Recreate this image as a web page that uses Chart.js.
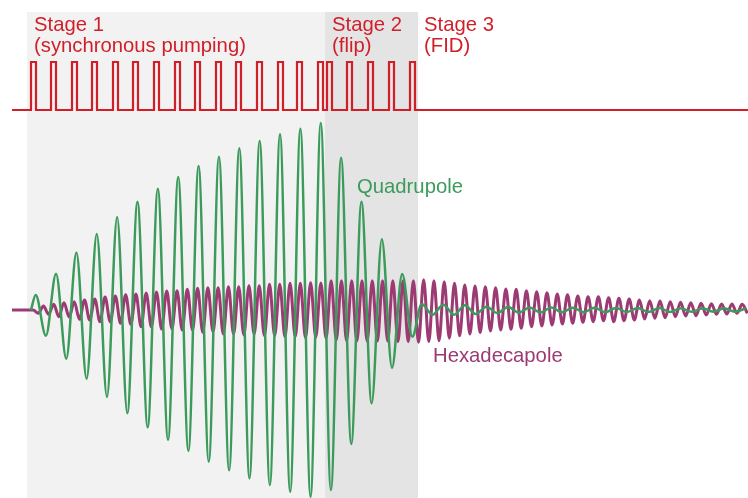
<!DOCTYPE html>
<html>
<head>
<meta charset="utf-8">
<script src="https://cdn.jsdelivr.net/npm/chart.js@4.4.1/dist/chart.umd.min.js"></script>
<style>
  html, body { margin: 0; padding: 0; background: #ffffff; }
  #wrap { width: 748px; height: 498px; }
</style>
</head>
<body>
<div id="wrap"><canvas id="chart" width="748" height="498"></canvas></div>
<script>
// time axis runs 0..748, signal axis centred on 0
const stageEdges = [27, 325, 418];
const stageTitles = ['Stage 1', 'Stage 2', 'Stage 3'];
const stageNotes = ['(synchronous pumping)', '(flip)', '(FID)'];

// pump pulse train (rising edge times)
const pulseStartsPump = [31, 51, 72, 92, 113, 133, 154, 175, 195, 216, 236, 257, 278, 297, 318];
const pulseStartsFlip = [327, 347, 368, 389, 410];
const pulseWidth = 5;
const pulseLow = 200;
const pulseHigh = 248;
const traceStart = 12;
const traceEnd = 748;

// quadrupole: successive peaks / troughs during pumping and flip
const quadStart = 35.7;
const quadHalfPeriod = 10.18;
const quadDriven = [
    15, -25.7, 36.3, -48.7, 57.3, -68.7, 76, -87, 93, -103.3,
    108.3, -117.3, 121.3, -130, 133, -141, 144, -151.7, 153.3, -160.3,
    161.7, -168.3, 169, -175, 175.7, -181.7, 181.3, -186.7, 187, -180,
    152.3, -134, 108.3, -93.3, 70.7, -57.7, 36, -26.7
];
// quadrupole: free decay (stage 3)
const quadFreeStart = 421.7;
const quadFreeHalfPeriod = 10.8;
const quadFree = [
    6, -4.7, 5.3, -4.7, 4.7, -4, 3.3, -3, 3, -2.7,
    2.5, -2.5, 2.4, -2.3, 2.2, -2.2, 2.2, -2.2, 2, -2,
    2, -2, 1.9, -1.9, 1.8, -1.8, 1.8, -1.7, 1.7, -1.7, 1.6
];

// hexadecapole: successive troughs / peaks over the whole record
const hexStart = 38.3;
const hexHalfPeriod = 5.138;
const hexValues = [
    -3.3, 4, -4.3, 5.7, -6.7, 7.3, -7, 8.3, -9.3, 10,
    -10, 11, -11.7, 13, -12, 14, -13.3, 15.3, -14.3, 16,
    -16.7, 17, -16.7, 18, -19, 19, -18.7, 19.3, -20, 20.7,
    -20, 21.7, -22.3, 22.3, -21.7, 22.3, -24, 23.3, -24, 23.3,
    -25, 24.3, -24.3, 24.3, -25.7, 25.7, -25.7, 25.7, -26.7, 26.7,
    -26.7, 26.7, -27.7, 27.3, -27.3, 27, -28.3, 29.3, -30, 29.3,
    -30.7, 29.3, -31, 29.3, -31, 29.3, -31, 29.3, -31, 29.3,
    -31.7, 29.3, -31.7, 29.3, -32.3, 30.3, -31.7, 29.3, -30.7, 28.3,
    -28.3, 26.7, -25.7, 25, -24, 24, -22.5, 23.3, -21, 22.3,
    -20, 21, -19.3, 20.7, -18.3, 19.3, -16.7, 18.3, -16, 17.3,
    -15, 16, -14, 15.3, -13.3, 14, -12.3, 13.3, -11.7, 13.3,
    -10.7, 12.3, -11.7, 11.7, -10.7, 11, -10, 10, -9, 9.3,
    -8.3, 9, -7.7, 8.3, -6.7, 7.7, -6, 7.3, -5.7, 6.7,
    -5, 6.3, -4.3, 6, -4, 6, -3.3, 5.7, -3.3
];

const red = '#d01f29';
const green = '#3c9b5c';
const purple = '#9c3a74';
const labelFont = '20.3px "Liberation Sans", Arial, sans-serif';

function pulsePoints() {
    const pts = [{ x: traceStart, y: pulseLow }];
    pulseStartsPump.concat(pulseStartsFlip).forEach(t => {
        pts.push({ x: t, y: pulseLow }, { x: t, y: pulseHigh });
        pts.push({ x: t + pulseWidth, y: pulseHigh }, { x: t + pulseWidth, y: pulseLow });
    });
    pts.push({ x: traceEnd, y: pulseLow });
    return pts;
}

function extremaPoints(start, step, values) {
    return values.map((v, i) => ({ x: start + i * step, y: v }));
}

const quadPoints = [{ x: 31, y: 0 }]
    .concat(extremaPoints(quadStart, quadHalfPeriod, quadDriven))
    .concat(extremaPoints(quadFreeStart, quadFreeHalfPeriod, quadFree));

const hexPoints = [{ x: traceStart, y: 0 }, { x: 33, y: 0 }]
    .concat(extremaPoints(hexStart, hexHalfPeriod, hexValues));

const stagePlugin = {
    id: 'stages',
    beforeDatasetsDraw(chart) {
        const ctx = chart.ctx;
        const xs = chart.scales.x;
        const bottom = chart.chartArea.bottom;
        const x0 = xs.getPixelForValue(stageEdges[0]);
        const x1 = xs.getPixelForValue(stageEdges[1]);
        const x2 = xs.getPixelForValue(stageEdges[2]);
        ctx.save();
        ctx.fillStyle = '#f2f2f2';
        ctx.fillRect(x0, 12, x1 - x0, bottom - 12);
        ctx.fillStyle = '#e4e4e4';
        ctx.fillRect(x1, 12, x2 - x1, bottom - 12);
        ctx.restore();
    },
    afterDatasetsDraw(chart) {
        const ctx = chart.ctx;
        const xs = chart.scales.x;
        const textX = [34, 332, 424];
        ctx.save();
        ctx.font = labelFont;
        ctx.textBaseline = 'alphabetic';
        ctx.fillStyle = red;
        stageTitles.forEach((t, i) => {
            ctx.fillText(t, xs.getPixelForValue(textX[i]), 30.7);
            ctx.fillText(stageNotes[i], xs.getPixelForValue(textX[i]), 51.5);
        });
        ctx.fillStyle = green;
        ctx.fillText('Quadrupole', xs.getPixelForValue(357), 193.3);
        ctx.fillStyle = purple;
        ctx.fillText('Hexadecapole', xs.getPixelForValue(433), 361.7);
        ctx.restore();
    }
};

new Chart(document.getElementById('chart'), {
    type: 'line',
    data: {
        datasets: [
            {
                label: 'Pulses',
                data: pulsePoints(),
                borderColor: red,
                borderWidth: 2.2,
                tension: 0,
                pointRadius: 0,
                order: 1
            },
            {
                label: 'Quadrupole',
                data: quadPoints,
                borderColor: green,
                borderWidth: 2.5,
                cubicInterpolationMode: 'monotone',
                tension: 0.4,
                pointRadius: 0,
                order: 2
            },
            {
                label: 'Hexadecapole',
                data: hexPoints,
                borderColor: purple,
                borderWidth: 3,
                cubicInterpolationMode: 'monotone',
                tension: 0.4,
                pointRadius: 0,
                order: 3
            }
        ]
    },
    options: {
        responsive: false,
        animation: false,
        devicePixelRatio: 1,
        layout: { padding: 0 },
        plugins: {
            legend: { display: false },
            tooltip: { enabled: false }
        },
        scales: {
            x: { type: 'linear', min: 0, max: 748, display: false },
            y: { type: 'linear', min: -188, max: 310, display: false }
        }
    },
    plugins: [stagePlugin]
});
</script>
</body>
</html>
